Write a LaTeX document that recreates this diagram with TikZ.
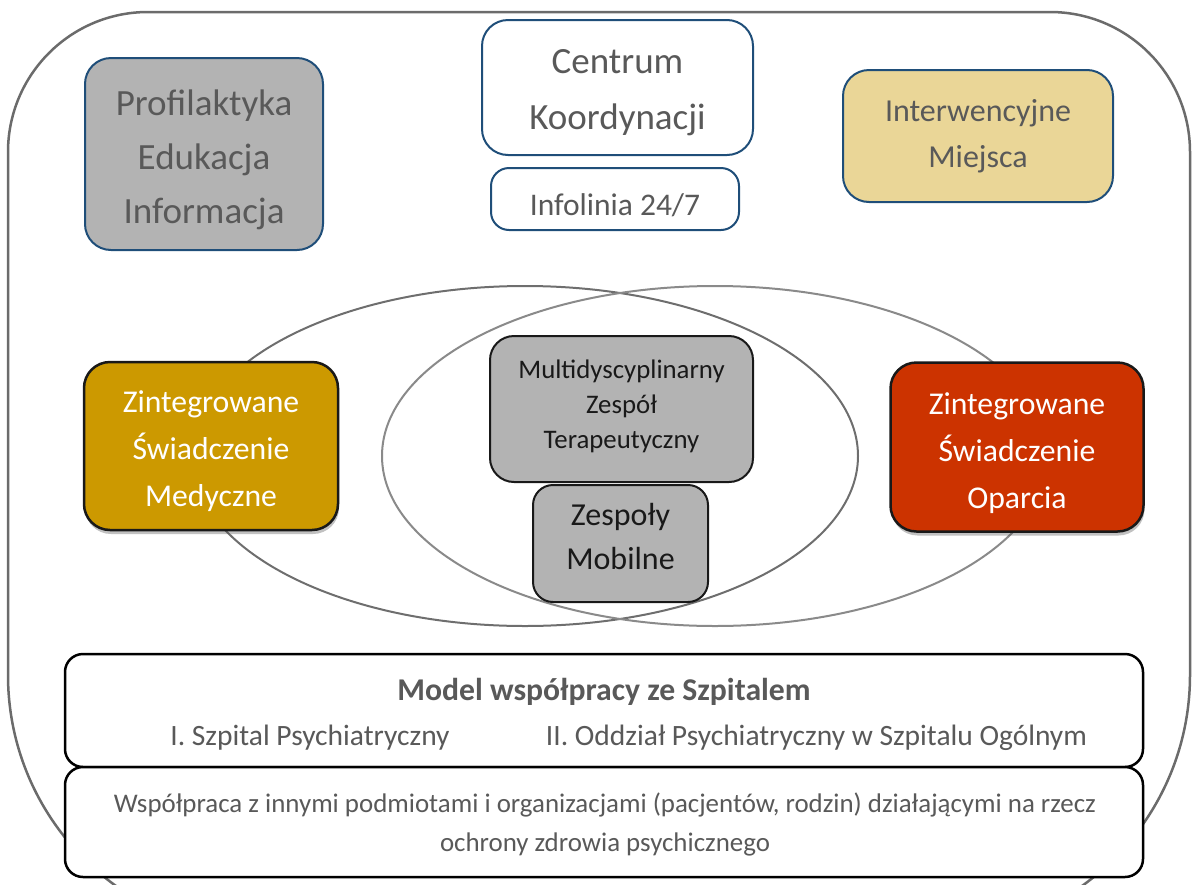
\documentclass[tikz,border=0pt]{standalone}
\usepackage{fontspec}
\setmainfont{Carlito}
\usetikzlibrary{shadows}
\definecolor{txtgray}{HTML}{595959}
\definecolor{bordblue}{HTML}{1F4E79}
\definecolor{boxgray}{HTML}{B3B3B3}
\definecolor{sand}{HTML}{EAD697}
\definecolor{gold}{HTML}{CC9900}
\definecolor{rust}{HTML}{CC3300}
\definecolor{outercol}{HTML}{6B6B6B}
\definecolor{ellA}{HTML}{6E6E6E}
\definecolor{ellB}{HTML}{8A8A8A}
\begin{document}
\begin{tikzpicture}[x=1pt,y=-1pt,
  topbox/.style={draw=bordblue, line width=2pt, rounded corners=26pt, inner sep=0pt},
  midbox/.style={draw=black!90, line width=2.5pt, rounded corners=26pt, inner sep=0pt,
     drop shadow={shadow xshift=1pt, shadow yshift=-4pt, opacity=.35, fill=black!70}},
  teambox/.style={draw=black!90, line width=2pt, rounded corners=24pt, fill=boxgray, inner sep=0pt},
  botbox/.style={draw=black, line width=2.5pt, rounded corners=18pt, fill=white, inner sep=0pt},
  graytxt/.style={text=txtgray, inner sep=0pt, align=center},
  whitetxt/.style={text=white, inner sep=0pt, align=center},
  blacktxt/.style={text=black!90, inner sep=0pt, align=center},
  outerline/.style={draw=outercol, line width=2.5pt, line join=round},
]
\useasboundingbox (0,0) rectangle (1192,884);
\clip (0,0) rectangle (1192,884);

% outer frame
\draw[outerline] (8,675) -- (8,152) arc[start angle=180, end angle=90, radius=140pt]
   -- (1050,12) arc[start angle=90, end angle=0, radius=140pt]
   -- (1190,675) arc[start angle=0, end angle=-90, radius=260pt]
   -- (268,935) arc[start angle=270, end angle=180, radius=260pt] -- cycle;

% ellipses
\draw[draw=ellA, line width=2pt] (525,456) ellipse [x radius=333pt, y radius=170pt];
\draw[draw=ellB, line width=2pt] (715,456) ellipse [x radius=333pt, y radius=170pt];

% top row
\node[topbox, fill=boxgray, minimum width=238pt, minimum height=192pt] (prof) at (204,154) {};
\node[graytxt, font=\fontsize{37}{54}\selectfont] (profT) at ([yshift=-6pt]prof.center) {Profilaktyka\\Edukacja\\Informacja};

\node[topbox, fill=white, minimum width=271pt, minimum height=135pt] (centrum) at (617.5,87.5) {};
\node[graytxt, font=\fontsize{37}{56}\selectfont] (centrumT) at ([yshift=-5pt]centrum.center) {Centrum\\Koordynacji};

\node[topbox, fill=white, rounded corners=18pt, minimum width=248pt, minimum height=62pt] (info) at (615,199) {};
\node[graytxt, font=\fontsize{31.5}{36}\selectfont] (infoT) at ([yshift=-6pt]info.center) {Infolinia 24/7};

\node[topbox, fill=sand, minimum width=270pt, minimum height=132pt] (interw) at (978,136) {};
\node[graytxt, font=\fontsize{32}{46}\selectfont] (interwT) at (interw.center) {Interwencyjne\\Miejsca};

% middle row
\node[midbox, fill=gold, minimum width=254pt, minimum height=168pt] (med) at (211,446) {};
\node[whitetxt, font=\fontsize{31.7}{47}\selectfont] (medT) at ([yshift=-5pt]med.center) {Zintegrowane\\Świadczenie\\Medyczne};

\node[midbox, fill=rust, minimum width=253pt, minimum height=169pt] (opar) at (1017,447) {};
\node[whitetxt, font=\fontsize{31.7}{47}\selectfont] (oparT) at ([yshift=-6pt]opar.center) {Zintegrowane\\Świadczenie\\Oparcia};

\node[teambox, minimum width=263pt, minimum height=146pt] (multi) at (621.5,409) {};
\node[blacktxt, font=\fontsize{26.8}{35}\selectfont] (multiT) at ([yshift=3pt]multi.center) {Multidyscyplinarny\\Zespół\\Terapeutyczny};

\node[teambox, rounded corners=20pt, minimum width=175pt, minimum height=117pt] (mobil) at (620.5,543.5) {};
\node[blacktxt, font=\fontsize{32}{44}\selectfont] (mobilT) at ([yshift=7pt]mobil.center) {Zespoły\\Mobilne};

% bottom boxes
\node[botbox, minimum width=1078pt, minimum height=113pt] (model) at (604,710.5) {};
\node[botbox, minimum width=1078pt, minimum height=110pt] (wsp) at (604,822) {};

\node[graytxt, anchor=base, font=\fontsize{31.7}{36}\selectfont\bfseries] (mtitle) at (604,700) {Model współpracy ze Szpitalem};
\node[graytxt, anchor=base, font=\fontsize{29.5}{34}\selectfont] (szp1) at (310,745) {I. Szpital Psychiatryczny};
\node[graytxt, anchor=base, font=\fontsize{29.5}{34}\selectfont] (szp2) at (816.5,745) {II. Oddział Psychiatryczny w Szpitalu Ogólnym};
\node[graytxt, font=\fontsize{26.9}{39}\selectfont] (wsptxt) at (605,824) {Współpraca z innymi podmiotami i organizacjami (pacjentów, rodzin) działającymi na rzecz\\ochrony zdrowia psychicznego};
\end{tikzpicture}
\end{document}
